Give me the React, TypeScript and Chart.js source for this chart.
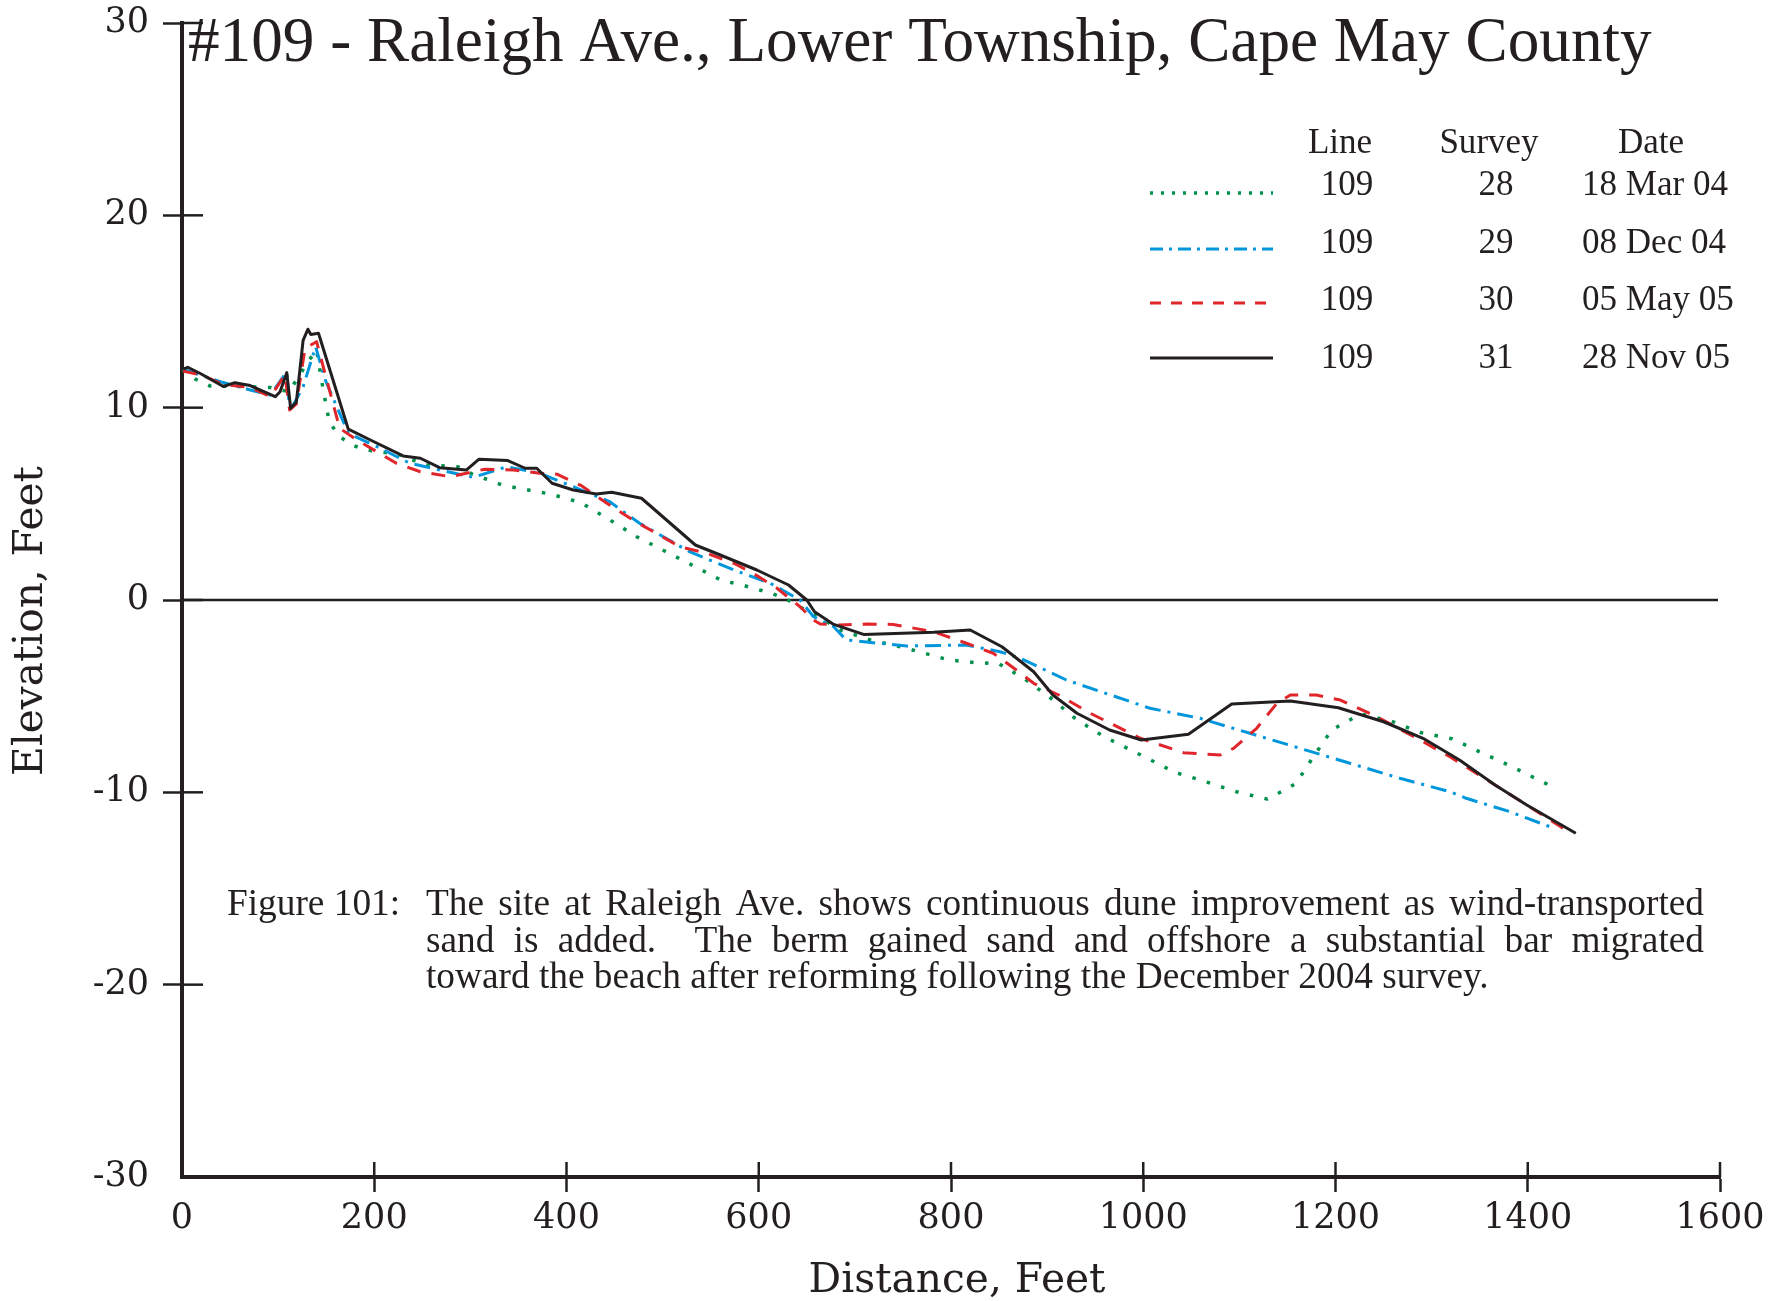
import React, { useEffect, useRef } from 'react';
import { Chart, registerables } from 'chart.js';

Chart.register(...registerables);

// ---------- data ----------
const X_TICKS = [0, 200, 400, 600, 800, 1000, 1200, 1400, 1600];
const Y_TICKS = [-30, -20, -10, 0, 10, 20, 30];

// Survey 28 (18 Mar 04) - dotted green
const DIST_28 = [1, 14, 29, 60, 92, 111, 120, 131, 140, 147, 153, 162, 175, 191, 224, 253, 287, 302, 334, 383, 415, 444, 473, 502, 532, 562, 579, 611, 627, 641, 671, 685, 716, 750, 798, 832, 848, 877, 904, 930, 958, 1003, 1033, 1065, 1097, 1129, 1145, 1159, 1177, 1196, 1226, 1257, 1289, 1321, 1351, 1382, 1427];
const ELEV_28 = [12.0, 11.48, 11.13, 11.1, 11.05, 10.83, 11.5, 12.39, 13.0, 10.9, 9.32, 8.58, 8.1, 7.8, 7.59, 7.02, 6.93, 6.55, 5.96, 5.51, 5.06, 4.2, 3.29, 2.55, 1.78, 1.0, 0.83, 0.38, 0.09, -0.31, -1.13, -1.56, -2.08, -2.46, -3.12, -3.29, -3.26, -4.12, -5.11, -6.19, -7.07, -8.2, -8.96, -9.45, -9.97, -10.35, -9.93, -9.53, -8.15, -6.76, -5.93, -6.28, -6.9, -7.21, -7.92, -8.63, -9.74];

// Survey 29 (08 Dec 04) - dash-dot blue
const DIST_29 = [1, 40, 71, 92, 109, 112, 126, 139, 149, 173, 203, 237, 268, 303, 338, 372, 407, 445, 476, 528, 574, 612, 643, 657, 678, 691, 719, 754, 816, 851, 872, 920, 1007, 1059, 1111, 1215, 1267, 1319, 1336, 1381, 1423];
const ELEV_29 = [12.0, 11.35, 10.92, 10.66, 11.87, 9.79, 11.09, 13.17, 11.44, 8.67, 7.97, 7.11, 6.76, 6.38, 6.93, 6.59, 5.89, 5.11, 3.99, 2.51, 1.56, 0.87, 0, -0.87, -1.39, -2.08, -2.22, -2.39, -2.34, -2.69, -3.03, -4.16, -5.63, -6.15, -6.93, -8.49, -9.27, -9.97, -10.31, -11.0, -11.79];

// Survey 30 (05 May 05) - dashed red
const DIST_30 = [1, 20, 43, 71, 92, 107, 112, 119, 128, 140, 164, 182, 223, 248, 279, 315, 345, 372, 390, 416, 442, 469, 518, 546, 574, 594, 619, 643, 657, 664, 684, 712, 740, 782, 816, 844, 868, 886, 912, 945, 997, 1042, 1080, 1094, 1118, 1139, 1153, 1180, 1205, 1243, 1288, 1319, 1366, 1399, 1437];
const ELEV_30 = [11.9, 11.7, 11.2, 11.05, 10.57, 11.7, 9.88, 10.2, 13.09, 13.43, 8.93, 8.32, 7.11, 6.67, 6.41, 6.8, 6.76, 6.59, 6.54, 5.93, 5.03, 4.16, 2.77, 2.43, 1.91, 1.39, 0.61, -0.35, -1.04, -1.25, -1.3, -1.25, -1.27, -1.65, -2.25, -2.77, -3.64, -4.33, -4.94, -5.89, -7.19, -7.94, -8.06, -7.71, -6.67, -5.37, -4.94, -4.94, -5.2, -6.07, -7.28, -8.15, -9.62, -10.66, -11.87];

// Survey 31 (28 Nov 05) - solid black
const DIST_31 = [1, 6, 20, 43, 55, 71, 97, 102, 109, 113, 119, 126, 131, 134, 142, 173, 196, 230, 248, 268, 296, 309, 339, 357, 369, 385, 407, 431, 447, 478, 534, 560, 598, 631, 650, 658, 678, 709, 782, 820, 853, 886, 906, 931, 965, 998, 1047, 1092, 1153, 1203, 1250, 1291, 1329, 1366, 1399, 1450];
const ELEV_31 = [12.0, 12.1, 11.75, 11.1, 11.3, 11.15, 10.57, 10.83, 11.82, 9.97, 10.3, 13.5, 14.08, 13.8, 13.87, 8.88, 8.32, 7.49, 7.37, 6.88, 6.76, 7.32, 7.25, 6.85, 6.85, 6.07, 5.72, 5.51, 5.6, 5.29, 2.86, 2.34, 1.56, 0.78, 0, -0.61, -1.27, -1.79, -1.68, -1.56, -2.43, -3.73, -4.94, -5.89, -6.76, -7.28, -6.98, -5.41, -5.25, -5.6, -6.33, -7.19, -8.32, -9.62, -10.66, -12.13];

const LINE_NUMBERS = ['109', '109', '109', '109'];
const SURVEY_NUMBERS = ['28', '29', '30', '31'];
const SURVEY_DATES = ['18 Mar 04', '08 Dec 04', '05 May 05', '28 Nov 05'];
const LEGEND_HEADERS = ['Line', 'Survey', 'Date'];

const TITLE = '#109 - Raleigh Ave., Lower Township, Cape May County';
const X_TITLE = 'Distance, Feet';
const Y_TITLE = 'Elevation, Feet';
const CAPTION_LABEL = 'Figure 101:';
const CAPTION_LINES = [
  'The site at Raleigh Ave. shows continuous dune improvement as wind-transported',
  'sand is added.  The berm gained sand and offshore a substantial bar migrated',
  'toward the beach after reforming following the December 2004 survey.',
];

// ---------- styles ----------
const INK = '#231f20';
const GREEN = '#00914a';
const BLUE = '#0096dc';
const RED = '#e0262b';
const SERIF_A = '"Liberation Serif", serif';
const SERIF_B = '"DejaVu Serif", serif';

const SERIES_STYLE = [
  { color: GREEN, width: 3.5, dash: [3.5, 11.5], legendDash: [3, 8] },
  { color: BLUE, width: 3, dash: [16, 7, 3, 7], legendDash: [13, 6, 3, 6] },
  { color: RED, width: 3, dash: [14, 11], legendDash: [11, 10] },
  { color: INK, width: 3, dash: [], legendDash: [] },
];

const SERIES = [
  [DIST_28, ELEV_28],
  [DIST_29, ELEV_29],
  [DIST_30, ELEV_30],
  [DIST_31, ELEV_31],
];

function fitSize(ctx: CanvasRenderingContext2D, text: string, family: string, width: number) {
  ctx.font = `100px ${family}`;
  const w = ctx.measureText(text).width;
  return (100 * width) / w;
}

function drawJustified(ctx: CanvasRenderingContext2D, text: string, x: number, y: number, width: number) {
  const words = text.split(' ');
  const total = words.reduce((s, w) => s + ctx.measureText(w).width, 0);
  const gap = (width - total) / (words.length - 1);
  let cx = x;
  for (const w of words) {
    ctx.fillText(w, cx, y);
    cx += ctx.measureText(w).width + gap;
  }
}

const overlayPlugin = {
  id: 'overlay',
  beforeDatasetsDraw(chart: any) {
    const { ctx, scales } = chart;
    const x = scales.x;
    const y = scales.y;
    ctx.save();
    ctx.strokeStyle = INK;
    ctx.lineWidth = 2.5;
    // zero line
    const y0 = y.getPixelForValue(0);
    ctx.beginPath();
    ctx.moveTo(x.left, y0);
    ctx.lineTo(x.getPixelForValue(1600) - 2, y0);
    ctx.stroke();
    // inner tick parts
    for (const v of Y_TICKS) {
      if (v === -30) continue;
      const py = y.getPixelForValue(v);
      ctx.beginPath();
      ctx.moveTo(x.left, py);
      ctx.lineTo(x.left + 21, py);
      ctx.stroke();
    }
    for (const v of X_TICKS) {
      if (v === 0) continue;
      const px = x.getPixelForValue(v);
      ctx.beginPath();
      ctx.moveTo(px, y.bottom);
      ctx.lineTo(px, y.bottom - 15);
      ctx.stroke();
    }
    ctx.restore();
  },
  afterDraw(chart: any) {
    const { ctx } = chart;
    ctx.save();
    ctx.fillStyle = INK;
    ctx.textBaseline = 'middle';

    // title
    const ts = fitSize(ctx, TITLE, SERIF_A, 1464);
    ctx.font = `${ts}px ${SERIF_A}`;
    ctx.textAlign = 'left';
    ctx.fillText(TITLE, 188, 44);

    // axis titles
    const xs = fitSize(ctx, X_TITLE, SERIF_B, 297);
    ctx.font = `${xs}px ${SERIF_B}`;
    ctx.textAlign = 'center';
    ctx.fillText(X_TITLE, 957, 1281);
    const ys = fitSize(ctx, Y_TITLE, SERIF_B, 310);
    ctx.save();
    ctx.translate(31, 621);
    ctx.rotate(-Math.PI / 2);
    ctx.font = `${ys}px ${SERIF_B}`;
    ctx.fillText(Y_TITLE, 0, 0);
    ctx.restore();

    // legend
    const ls = fitSize(ctx, SURVEY_DATES[0], SERIF_A, 146);
    ctx.font = `${ls}px ${SERIF_A}`;
    ctx.textAlign = 'center';
    ctx.fillText(LEGEND_HEADERS[0], 1340, 144);
    ctx.fillText(LEGEND_HEADERS[1], 1489, 144);
    ctx.fillText(LEGEND_HEADERS[2], 1651, 144);
    const rowY = [186, 244, 301, 359];
    const lineY = [193, 249, 303, 358];
    for (let i = 0; i < 4; i++) {
      ctx.textAlign = 'center';
      ctx.fillText(LINE_NUMBERS[i], 1347, rowY[i]);
      ctx.fillText(SURVEY_NUMBERS[i], 1496, rowY[i]);
      ctx.textAlign = 'left';
      ctx.fillText(SURVEY_DATES[i], 1582, rowY[i]);
      const st = SERIES_STYLE[i];
      ctx.save();
      ctx.strokeStyle = st.color;
      ctx.lineWidth = st.width;
      ctx.setLineDash(st.legendDash);
      ctx.beginPath();
      ctx.moveTo(1150, lineY[i]);
      ctx.lineTo(1273, lineY[i]);
      ctx.stroke();
      ctx.restore();
    }

    // caption
    const cs = fitSize(ctx, CAPTION_LINES[2], SERIF_A, 1063);
    ctx.font = `${cs}px ${SERIF_A}`;
    ctx.textAlign = 'left';
    const capY = [905, 942, 978];
    ctx.fillText(CAPTION_LABEL, 227, capY[0]);
    drawJustified(ctx, CAPTION_LINES[0], 426, capY[0], 1278);
    drawJustified(ctx, CAPTION_LINES[1], 426, capY[1], 1278);
    ctx.fillText(CAPTION_LINES[2], 426, capY[2]);

    ctx.restore();
  },
};

export default function App() {
  const canvasRef = useRef<HTMLCanvasElement | null>(null);

  useEffect(() => {
    const canvas = canvasRef.current;
    if (!canvas) return;
    const datasets = SERIES.map(([d, e], i) => ({
      label: `Survey ${SURVEY_NUMBERS[i]}`,
      data: d.map((xv, j) => ({ x: xv, y: e[j] })),
      borderColor: SERIES_STYLE[i].color,
      borderWidth: SERIES_STYLE[i].width,
      borderDash: SERIES_STYLE[i].dash,
      borderJoinStyle: 'round' as const,
      pointRadius: 0,
      tension: 0,
      fill: false,
      order: 3 - i,
    }));

    const chart = new Chart(canvas, {
      type: 'line',
      data: { datasets },
      plugins: [overlayPlugin],
      options: {
        responsive: false,
        animation: false,
        devicePixelRatio: 1,
        layout: { padding: { left: 0, top: 23, right: 70, bottom: 0 } },
        plugins: { legend: { display: false }, tooltip: { enabled: false }, title: { display: false } },
        scales: {
          x: {
            type: 'linear',
            min: 0,
            max: 1600,
            afterFit: (s: any) => {
              s.height = 124;
              s.paddingLeft = 0;
              s.paddingRight = 0;
            },
            afterBuildTicks: (s: any) => { s.ticks = X_TICKS.map((v) => ({ value: v })); },
            ticks: {
              color: INK,
              font: { family: SERIF_B, size: 35 },
              padding: 6,
              maxRotation: 0,
              callback: (v: any) => String(v),
            },
            grid: {
              drawOnChartArea: false,
              drawTicks: true,
              tickLength: 15,
              tickWidth: 2.5,
              tickColor: (c: any) => (c.index === 0 ? 'rgba(0,0,0,0)' : INK),
              color: INK,
            },
            border: { display: true, color: INK, width: 4 },
          },
          y: {
            type: 'linear',
            min: -30,
            max: 30,
            afterFit: (s: any) => {
              s.width = 182;
              s.paddingTop = 0;
              s.paddingBottom = 0;
            },
            afterBuildTicks: (s: any) => { s.ticks = Y_TICKS.map((v) => ({ value: v })); },
            ticks: {
              color: INK,
              font: { family: SERIF_B, size: 35 },
              padding: 14,
              callback: (v: any) => String(v),
            },
            grid: {
              drawOnChartArea: false,
              drawTicks: true,
              tickLength: 19,
              tickWidth: 2.5,
              tickColor: (c: any) => (c.tick && c.tick.value === -30 ? 'rgba(0,0,0,0)' : INK),
              color: INK,
            },
            border: { display: true, color: INK, width: 4 },
          },
        },
      },
    });
    return () => chart.destroy();
  }, []);

  return (
    <div style={{ position: 'absolute', left: 0, top: 0, width: 1790, height: 1301, background: '#fff' }}>
      <canvas ref={canvasRef} width={1790} height={1301} style={{ display: 'block' }} />
    </div>
  );
}
